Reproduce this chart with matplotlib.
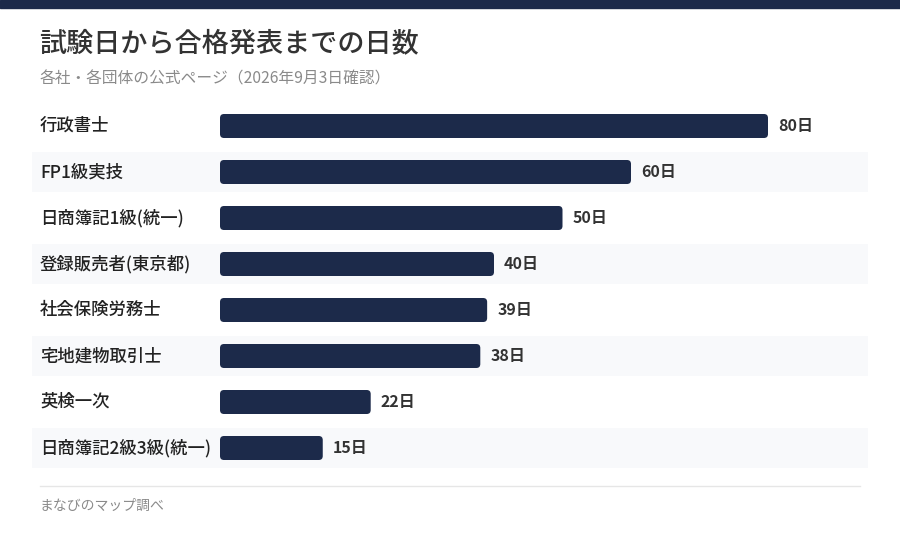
import matplotlib
matplotlib.use('Agg')
import matplotlib.pyplot as plt
from matplotlib.patches import FancyBboxPatch, Rectangle
from matplotlib.transforms import blended_transform_factory

plt.rcParams['font.family'] = ['Noto Sans CJK JP', 'DejaVu Sans']

categories = ['行政書士', 'FP1級実技', '日商簿記1級(統一)', '登録販売者(東京都)',
              '社会保険労務士', '宅地建物取引士', '英検一次', '日商簿記2級3級(統一)']
days = [80, 60, 50, 40, 39, 38, 22, 15]
value_labels = [f'{d}日' for d in days]

title = '試験日から合格発表までの日数'
subtitle = '各社・各団体の公式ページ（2026年9月3日確認）'
footer = 'まなびのマップ調べ'

navy = '#1c2a4a'
W, H = 900, 558
fig = plt.figure(figsize=(W / 100, H / 100), dpi=100)
fig.patch.set_facecolor('white')

def fx(px):
    return px / W

def fy(py):
    return 1 - py / H

# top band
fig.patches.append(Rectangle((0, fy(8)), 1, 8 / H, transform=fig.transFigure,
                             color=navy, zorder=0))
fig.text(fx(39), fy(44), title, fontsize=19.5, color='#333333', weight='medium',
         va='center', ha='left')
fig.text(fx(40), fy(79), subtitle, fontsize=11.3, color='#8a8a8a',
         va='center', ha='left')

# plot area
px_per_unit = 6.85
x0_px, x1_px = 32, 868
top_px, bot_px = 103, 103 + 46 * len(days)
ax = fig.add_axes([fx(x0_px), fy(bot_px), (x1_px - x0_px) / W, (bot_px - top_px) / H])
ax.set_xlim(-(220 - x0_px) / px_per_unit, (x1_px - 220) / px_per_unit)
ax.set_ylim(len(days) - 0.5, -0.5)
ax.axis('off')

xmin, xmax = ax.get_xlim()
for i in range(len(days)):
    if i % 2 == 1:
        ax.add_patch(Rectangle((xmin, i - 0.445), xmax - xmin, 0.89,
                               facecolor='#f8f9fb', edgecolor='none', zorder=0))

bar_h = 24 / 46
aspect = px_per_unit / 46
for i, d in enumerate(days):
    ax.add_patch(FancyBboxPatch((0, i - bar_h / 2), d, bar_h,
                                boxstyle=f'round,pad=0,rounding_size={4 / px_per_unit}',
                                mutation_aspect=aspect,
                                facecolor=navy, edgecolor='none', zorder=2))
    ax.text(d + 10 / px_per_unit, i, value_labels[i], fontsize=11.5, weight='bold',
            color='#333333', va='center', ha='left')

tr = blended_transform_factory(fig.transFigure, ax.transData)
for i, c in enumerate(categories):
    ax.text(fx(40), i, c, transform=tr, fontsize=12.5, color='#222222',
            weight='medium', va='center', ha='left')

# footer
fig.add_artist(plt.Line2D([fx(40), fx(860)], [fy(486), fy(486)],
                          transform=fig.transFigure, color='#e6e6e6', lw=1))
fig.text(fx(40), fy(506), footer, fontsize=10, color='#8a8a8a',
         va='center', ha='left')

fig.savefig('out.png', dpi=100)
